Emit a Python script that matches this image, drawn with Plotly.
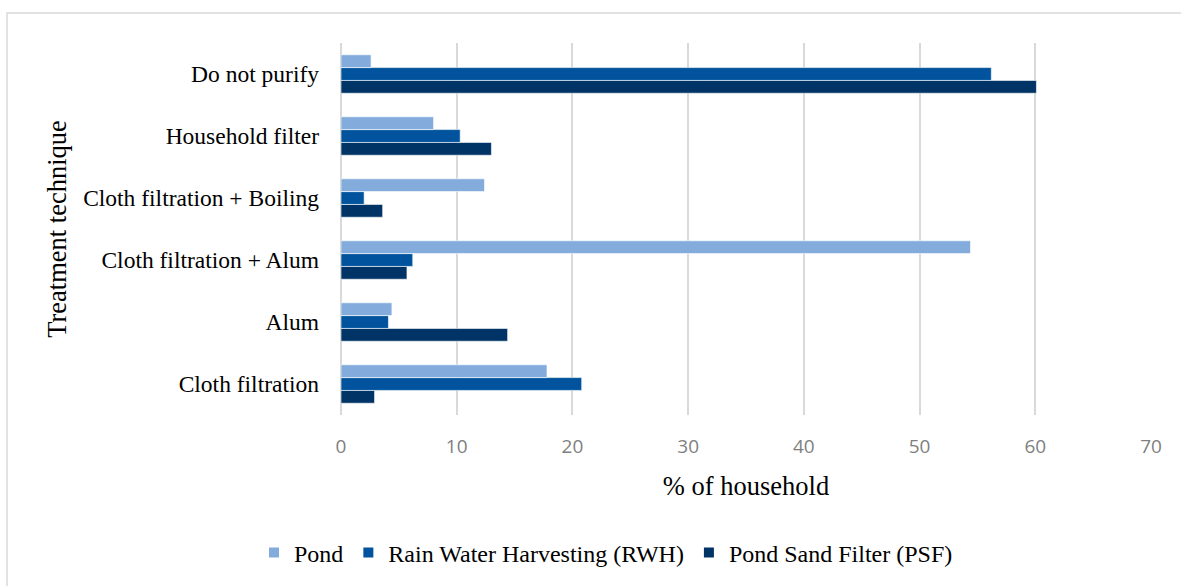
import plotly.graph_objects as go

# Treatment techniques, bottom to top on the category axis
techniques = [
    "Cloth filtration",
    "Alum",
    "Cloth filtration + Alum",
    "Cloth filtration + Boiling",
    "Household filter",
    "Do not purify",
]

# % of households using each technique, by water source
pond = [17.8, 4.4, 54.4, 12.4, 8.0, 2.6]
rwh = [20.8, 4.1, 6.2, 2.0, 10.3, 56.2]
psf = [2.9, 14.4, 5.7, 3.6, 13.0, 60.1]

x_ticks = [0, 10, 20, 30, 40, 50, 60, 70]

series = [
    ("Pond Sand Filter (PSF)", psf, "#003466"),
    ("Rain Water Harvesting (RWH)", rwh, "#00539C"),
    ("Pond", pond, "#83ACDD"),
]

W, H = 1181, 586
L, R, T, B = 341, 30, 43, 170
plot_w = W - L - R
plot_h = H - T - B

serif = "Liberation Serif, Times New Roman, serif"

fig = go.Figure()
for name, vals, color in series:
    fig.add_trace(go.Bar(
        y=techniques,
        x=vals,
        name=name,
        orientation="h",
        marker=dict(color=color, line=dict(color="white", width=0.6)),
    ))


def px_to_paper_x(px):
    return (px - L) / plot_w


def px_to_paper_y(py):
    return (H - B - py) / plot_h


fig.update_layout(
    width=W,
    height=H,
    margin=dict(l=L, r=R, t=T, b=B),
    paper_bgcolor="white",
    plot_bgcolor="white",
    barmode="group",
    bargap=0.38,
    bargroupgap=0,
    showlegend=True,
    legend=dict(
        orientation="h",
        traceorder="reversed",
        x=px_to_paper_x(606),
        xanchor="center",
        y=px_to_paper_y(553),
        yanchor="middle",
        font=dict(family=serif, size=24, color="black"),
        itemsizing="constant",
        itemwidth=30,
        bgcolor="rgba(0,0,0,0)",
    ),
    xaxis=dict(
        range=[0, 70],
        tickvals=x_ticks,
        ticktext=[str(v) for v in x_ticks],
        showgrid=True,
        gridcolor="#d9d9d9",
        gridwidth=1.5,
        zeroline=True,
        zerolinecolor="#d9d9d9",
        zerolinewidth=2,
        showline=False,
        ticks="",
        ticklabelstandoff=18,
        tickfont=dict(family="Open Sans, Lato, sans-serif", size=19, color="#7f7f7f"),
        title=dict(
            text="% of household",
            font=dict(family=serif, size=26.5, color="black"),
            standoff=18,
        ),
    ),
    yaxis=dict(
        categoryorder="array",
        categoryarray=techniques,
        showgrid=False,
        showline=False,
        zeroline=False,
        ticks="",
        ticklabelstandoff=21,
        tickfont=dict(family=serif, size=23.5, color="black"),
        title=dict(
            text="Treatment technique",
            font=dict(family=serif, size=26.5, color="black"),
            standoff=8,
        ),
    ),
    shapes=[
        dict(
            type="rect",
            xref="paper",
            yref="paper",
            x0=px_to_paper_x(7),
            x1=px_to_paper_x(W + 5),
            y0=px_to_paper_y(H + 5),
            y1=px_to_paper_y(13),
            line=dict(color="#d9d9d9", width=1.5),
            fillcolor="rgba(0,0,0,0)",
            layer="below",
        )
    ],
)

fig.write_html("out.html")
